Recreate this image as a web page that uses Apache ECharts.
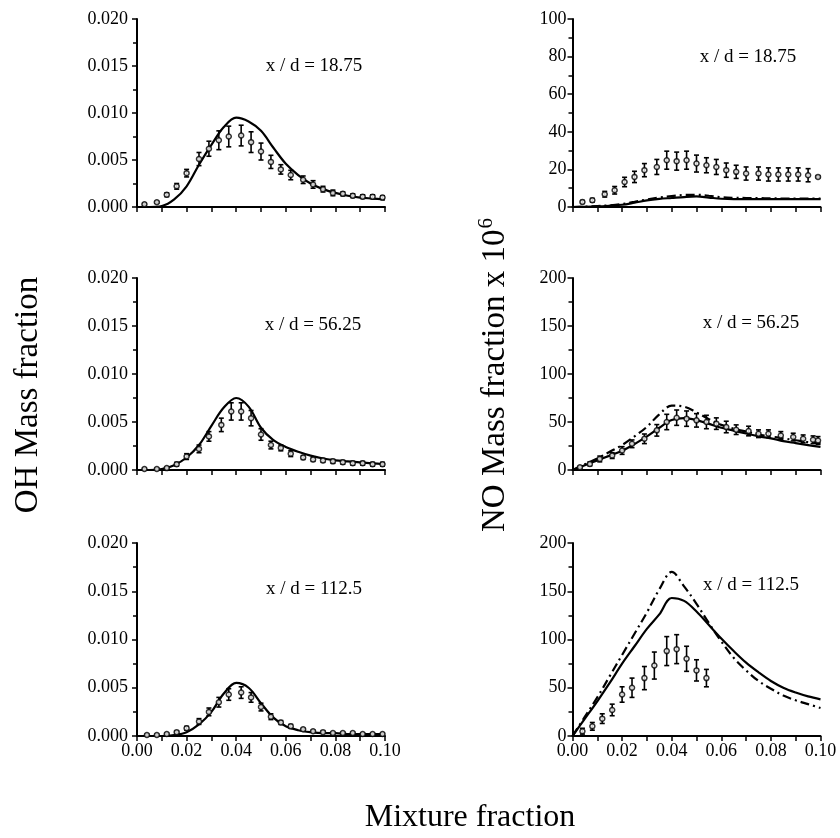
<!DOCTYPE html>
<html>
<head>
<meta charset="utf-8">
<script src="https://cdn.jsdelivr.net/npm/echarts@6/dist/echarts.min.js"></script>
<style>
html,body{margin:0;padding:0;background:#fff;}
#chart{width:840px;height:838px;}
</style>
</head>
<body>
<div id="chart"></div>
<script>
// ---------- data ----------
const modelX = [0,0.005,0.01,0.015,0.02,0.025,0.03,0.035,0.04,0.045,0.05,0.055,0.06,0.065,0.07,0.075,0.08,0.085,0.09,0.095,0.1];

// OH, x/d = 18.75
const oh1Solid = [0,0,0.0001,0.0008,0.0022,0.0045,0.0066,0.0085,0.0095,0.0091,0.0081,0.0063,0.0046,0.0034,0.0025,0.0019,0.0015,0.0012,0.0010,0.0009,0.0008];
const oh1X = [0.003,0.008,0.012,0.016,0.020,0.025,0.029,0.033,0.037,0.042,0.046,0.050,0.054,0.058,0.062,0.067,0.071,0.075,0.079,0.083,0.087,0.091,0.095,0.099];
const oh1Y = [0.0003,0.0005,0.0013,0.0022,0.0036,0.0051,0.0062,0.0071,0.0075,0.0076,0.0069,0.0059,0.0048,0.0040,0.0034,0.0029,0.0024,0.0019,0.0015,0.0014,0.0012,0.0011,0.0011,0.0010];
const oh1E = [0.0001,0.0001,0.0002,0.0003,0.0004,0.0007,0.0008,0.0010,0.0011,0.0011,0.0011,0.0009,0.0007,0.0005,0.0005,0.0004,0.0004,0.0003,0.0003,0.0002,0.0002,0.0002,0.0002,0.0002];

// OH, x/d = 56.25
const oh2Solid = [0,0,0.0001,0.0005,0.0013,0.0026,0.0046,0.0065,0.0075,0.0066,0.0044,0.0031,0.0024,0.0019,0.0015,0.0012,0.0010,0.0009,0.0008,0.0007,0.0006];
const oh2X = [0.003,0.008,0.012,0.016,0.020,0.025,0.029,0.034,0.038,0.042,0.046,0.050,0.054,0.058,0.062,0.067,0.071,0.075,0.079,0.083,0.087,0.091,0.095,0.099];
const oh2Y = [0.0001,0.0001,0.0002,0.0006,0.0014,0.0022,0.0035,0.0047,0.0061,0.0061,0.0054,0.0037,0.0026,0.0023,0.0017,0.0013,0.0011,0.0010,0.0009,0.0008,0.0007,0.0007,0.0006,0.0006];
const oh2E = [0.0001,0.0001,0.0001,0.0002,0.0003,0.0004,0.0005,0.0007,0.0009,0.0009,0.0008,0.0006,0.0004,0.0003,0.0003,0.0002,0.0002,0.0002,0.0002,0.0002,0.0002,0.0002,0.0002,0.0002];

// OH, x/d = 112.5
const oh3Solid = [0,0,0,0.0001,0.0004,0.0012,0.0025,0.0044,0.0055,0.0050,0.0034,0.0019,0.0010,0.0006,0.0004,0.0003,0.0003,0.0002,0.0002,0.0002,0.0002];
const oh3X = [0.004,0.008,0.012,0.016,0.020,0.025,0.029,0.033,0.037,0.042,0.046,0.050,0.054,0.058,0.062,0.067,0.071,0.075,0.079,0.083,0.087,0.091,0.095,0.099];
const oh3Y = [0.0001,0.0001,0.0002,0.0004,0.0008,0.0015,0.0025,0.0035,0.0043,0.0045,0.0040,0.0030,0.0020,0.0014,0.0010,0.0007,0.0005,0.0004,0.0003,0.0003,0.0003,0.0002,0.0002,0.0002];
const oh3E = [0.0001,0.0001,0.0001,0.0001,0.0002,0.0003,0.0004,0.0005,0.0006,0.0006,0.0005,0.0004,0.0003,0.0002,0.0002,0.0001,0.0001,0.0001,0.0001,0.0001,0.0001,0.0001,0.0001,0.0001];

// NO (x 1e6), x/d = 18.75
const no1Solid = [0,0.1,0.3,0.7,1.2,2.3,3.5,4.3,4.8,5.3,5.6,5.0,4.4,4.2,4.2,4.2,4.2,4.2,4.2,4.2,4.2];
const no1Dash  = [0,0.2,0.5,0.9,1.6,2.8,4.0,5.0,5.8,6.4,6.5,6.0,5.2,4.9,4.8,4.7,4.6,4.5,4.5,4.5,4.5];
const no1X = [0.004,0.008,0.013,0.017,0.021,0.025,0.029,0.034,0.038,0.042,0.046,0.050,0.054,0.058,0.062,0.066,0.070,0.075,0.079,0.083,0.087,0.091,0.095,0.099];
const no1Y = [2.7,3.6,6.8,8.9,13.3,16.0,19.6,21.3,24.9,24.4,24.9,23.1,22.2,21.3,19.6,18.7,17.8,17.8,17.3,17.3,17.3,17.3,16.9,16.0];
const no1E = [0.8,1.0,1.5,2.0,2.5,3.0,3.5,4.0,4.8,4.8,4.8,4.5,4.0,4.0,3.8,3.5,3.5,3.5,3.5,3.5,3.5,3.5,3.5,0.5];

// NO (x 1e6), x/d = 56.25
const no2Solid = [0,5,10,15,20,27,35,44,52,54,52,48,44,41,38,35,33,30,28,26,24];
const no2Dash  = [0,6,12,19,26,35,45,58,67,66,60,53,47,43,40,37,35,33,31,29,28];
const no2X = [0.003,0.007,0.011,0.016,0.020,0.024,0.029,0.034,0.038,0.042,0.046,0.050,0.054,0.058,0.062,0.066,0.071,0.075,0.079,0.084,0.089,0.093,0.097,0.099];
const no2Y = [2.8,6.3,11.5,15.0,20.3,27.3,32.5,41.3,50.0,54.5,53.5,51.7,50.0,48.3,44.8,42.0,40.6,37.8,37.8,36.0,34.3,32.5,31.5,30.8];
const no2E = [1,2,3,3,4,4,5,6,8,8,8,7,7,6,6,5,5,4,4,4,4,4,4,4];

// NO (x 1e6), x/d = 112.5
const no3Solid = [0,18,36,55,75,93,111,126,143,140,129,115,101,88,76,66,57,50,45,41,38];
const no3Dash  = [0,20,40,62,84,106,128,152,170,155,137,117,98,81,68,57,49,42,37,33,29];
const no3X = [0.004,0.008,0.012,0.016,0.020,0.024,0.029,0.033,0.038,0.042,0.046,0.050,0.054];
const no3Y = [5,10,18,27,43,50,60,73,88,90,80,68,60];
const no3E = [3,4,5,6,8,10,12,14,15,15,13,11,9];

const panelLabels = ['x / d = 18.75','x / d = 18.75','x / d = 56.25','x / d = 56.25','x / d = 112.5','x / d = 112.5'];

// ---------- chart ----------
const FONT = 'Liberation Serif';
const BLACK = '#000';
const grids = [
  {left:137, top:19, width:248, height:188},
  {left:572.5, top:19, width:248, height:188},
  {left:137, top:278, width:248, height:192},
  {left:572.5, top:278, width:248, height:192},
  {left:137, top:543, width:248, height:193},
  {left:572.5, top:543, width:248, height:193}
];
const yCfg = [
  {max:0.02, interval:0.005, dec:3, margin:9},
  {max:100, interval:20, dec:0, margin:6},
  {max:0.02, interval:0.005, dec:3, margin:9},
  {max:200, interval:50, dec:0, margin:6},
  {max:0.02, interval:0.005, dec:3, margin:9},
  {max:200, interval:50, dec:0, margin:6}
];

const xAxes = grids.map((g, i) => ({
  type:'value', gridIndex:i, min:0, max:0.1, interval:0.02,
  axisLine:{show:true, onZero:false, lineStyle:{color:BLACK, width:2}},
  axisTick:{show:true, inside:false, length:5, lineStyle:{color:BLACK, width:1.5}},
  minorTick:{show:true, splitNumber:2, length:5, lineStyle:{color:BLACK, width:1.5}},
  splitLine:{show:false}, minorSplitLine:{show:false},
  axisLabel:{show:i >= 4, color:BLACK, fontFamily:FONT, fontSize:18, margin:6,
    formatter:v => v.toFixed(2)}
}));
const yAxes = grids.map((g, i) => ({
  type:'value', gridIndex:i, min:0, max:yCfg[i].max, interval:yCfg[i].interval,
  axisLine:{show:true, onZero:false, lineStyle:{color:BLACK, width:2}},
  axisTick:{show:true, inside:false, length:5, lineStyle:{color:BLACK, width:1.5}},
  minorTick:{show:true, splitNumber:2, length:4, lineStyle:{color:BLACK, width:1.5}},
  splitLine:{show:false}, minorSplitLine:{show:false},
  axisLabel:{color:BLACK, fontFamily:FONT, fontSize:18, margin:yCfg[i].margin,
    formatter:v => v.toFixed(yCfg[i].dec)}
}));

function lineSeries(idx, vals, dashed){
  return {
    type:'line', xAxisIndex:idx, yAxisIndex:idx, smooth:0.35, showSymbol:false, silent:true,
    data: modelX.map((x, k) => [x, vals[k]]),
    lineStyle:{color:BLACK, width:2.2, type: dashed ? [9,4,2,4] : 'solid'}, z:2
  };
}
function errRender(params, api){
  const x = api.value(0), lo = api.value(1), hi = api.value(2);
  const p1 = api.coord([x, lo]), p2 = api.coord([x, hi]);
  const w = 2.5;
  const st = {stroke:BLACK, lineWidth:1.6};
  return {type:'group', children:[
    {type:'line', shape:{x1:p1[0], y1:p1[1], x2:p2[0], y2:p2[1]}, style:st},
    {type:'line', shape:{x1:p1[0]-w, y1:p1[1], x2:p1[0]+w, y2:p1[1]}, style:st},
    {type:'line', shape:{x1:p2[0]-w, y1:p2[1], x2:p2[0]+w, y2:p2[1]}, style:st}
  ]};
}
function expSeries(idx, xs, ys, es){
  return [
    {type:'custom', xAxisIndex:idx, yAxisIndex:idx, renderItem:errRender, silent:true, z:3,
      encode:{x:0, y:[1,2]},
      data: xs.map((x, k) => [x, Math.max(0, ys[k]-es[k]), ys[k]+es[k]])},
    {type:'scatter', xAxisIndex:idx, yAxisIndex:idx, symbol:'circle', symbolSize:5, silent:true, z:4,
      itemStyle:{color:'#fff', borderColor:BLACK, borderWidth:1.5},
      data: xs.map((x, k) => [x, ys[k]])}
  ];
}

const series = [
  lineSeries(0, oh1Solid, false), ...expSeries(0, oh1X, oh1Y, oh1E),
  lineSeries(1, no1Solid, false), lineSeries(1, no1Dash, true), ...expSeries(1, no1X, no1Y, no1E),
  lineSeries(2, oh2Solid, false), ...expSeries(2, oh2X, oh2Y, oh2E),
  lineSeries(3, no2Solid, false), lineSeries(3, no2Dash, true), ...expSeries(3, no2X, no2Y, no2E),
  lineSeries(4, oh3Solid, false), ...expSeries(4, oh3X, oh3Y, oh3E),
  lineSeries(5, no3Solid, false), lineSeries(5, no3Dash, true), ...expSeries(5, no3X, no3Y, no3E)
];

const labelPos = [[314,66],[748,57],[313,325],[751,323],[314,589],[751,585]];
const graphics = panelLabels.map((t, i) => ({
  type:'text', x:labelPos[i][0], y:labelPos[i][1], silent:true,
  style:{text:t, fill:BLACK, font:'19px "Liberation Serif"', textAlign:'center', textVerticalAlign:'middle'}
}));
graphics.push({
  type:'text', x:28, y:395, rotation:Math.PI/2, silent:true,
  style:{text:'OH Mass fraction', fill:BLACK, font:'33px "Liberation Serif"', textAlign:'center', textVerticalAlign:'middle'}
});
graphics.push({
  type:'text', x:494, y:375, rotation:Math.PI/2, silent:true,
  style:{text:'{a|NO Mass fraction x 10}{b|6}', fill:BLACK, textAlign:'center', textVerticalAlign:'middle',
    rich:{a:{fontFamily:FONT, fontSize:33, lineHeight:36, verticalAlign:'bottom'}, b:{fontFamily:FONT, fontSize:21, lineHeight:36, verticalAlign:'top', padding:[0,0,10,1]}}}
});
graphics.push({
  type:'text', x:470, y:818, silent:true,
  style:{text:'Mixture fraction', fill:BLACK, font:'32px "Liberation Serif"', textAlign:'center', textVerticalAlign:'middle'}
});

const chart = echarts.init(document.getElementById('chart'), null, {renderer:'canvas'});
chart.setOption({
  animation:false,
  backgroundColor:'#fff',
  grid: grids,
  xAxis: xAxes,
  yAxis: yAxes,
  series: series,
  graphic: graphics
});
</script>
</body>
</html>
